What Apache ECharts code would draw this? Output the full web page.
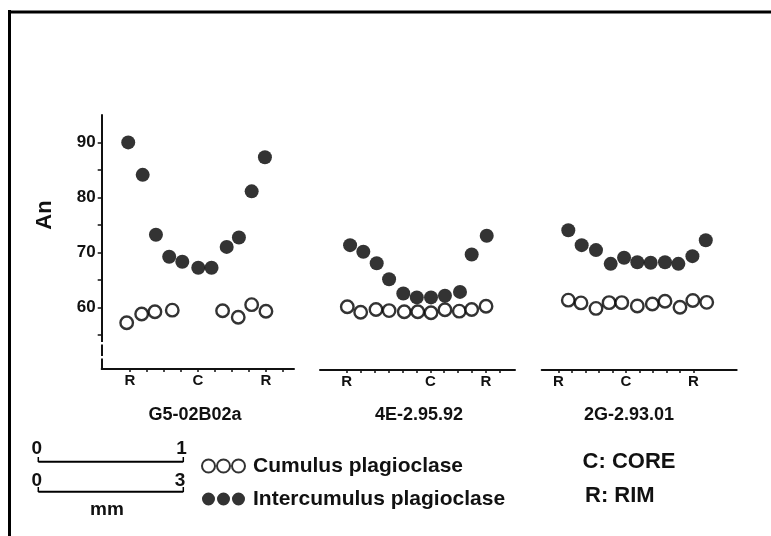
<!DOCTYPE html>
<html>
<head>
<meta charset="utf-8">
<title>An profiles</title>
<script src="https://cdn.jsdelivr.net/npm/echarts@6/dist/echarts.min.js"></script>
<style>
html, body { margin: 0; padding: 0; background: #fff; }
#chart { width: 771px; height: 536px; }
</style>
</head>
<body>
<div id="chart"></div>
<script>
// sample names
const samples = ['G5-02B02a', '4E-2.95.92', '2G-2.93.01']

// position along the traverse (tick steps from first rim) and An content
const g5InterX = [-0.1, 0.75, 1.53, 2.31, 3.08, 4.02, 4.8, 5.69, 6.41, 7.16, 7.94]
const g5InterAn = [90.0, 84.1, 73.2, 69.2, 68.3, 67.2, 67.2, 71.0, 72.7, 81.1, 87.3]
const g5CumX = [-0.19, 0.69, 1.47, 2.49, 5.45, 6.37, 7.16, 8.0]
const g5CumAn = [57.2, 58.8, 59.2, 59.5, 59.4, 58.2, 60.5, 59.3]

const e4InterX = [0.24, 1.19, 2.15, 3.04, 4.06, 5.03, 6.05, 7.05, 8.13, 8.97, 10.05]
const e4InterAn = [71.5, 70.3, 68.2, 65.3, 62.7, 62.0, 62.0, 62.3, 63.0, 69.8, 73.2]
const e4CumX = [0.04, 1.0, 2.1, 3.04, 4.13, 5.1, 6.05, 7.05, 8.08, 8.97, 10.0]
const e4CumAn = [60.3, 59.3, 59.8, 59.6, 59.4, 59.4, 59.2, 59.75, 59.5, 59.8, 60.4]

const g2InterX = [0.74, 1.73, 2.79, 3.88, 4.87, 5.85, 6.84, 7.9, 8.89, 9.93, 10.92]
const g2InterAn = [74.2, 71.5, 70.6, 68.1, 69.2, 68.4, 68.3, 68.4, 68.1, 69.5, 72.4]
const g2CumX = [0.74, 1.68, 2.79, 3.76, 4.7, 5.85, 6.96, 7.9, 9.01, 9.96, 10.99]
const g2CumAn = [61.5, 61.0, 60.0, 61.05, 61.05, 60.45, 60.8, 61.3, 60.2, 61.45, 61.1]

// rim / core marks on each traverse
const g5Marks = [0, 4, 8]
const e4Marks = [0, 6, 10]
const g2Marks = [0, 5, 10]
const markText = ['R', 'C', 'R']
const g5Ticks = [0, 1, 2, 3, 4, 5, 6, 7, 8, 9]
const e4Ticks = [0, 1, 2, 3, 4, 5, 6, 7, 8, 9, 10, 11]
const g2Ticks = [0, 1, 2, 3, 4, 5, 6, 7, 8, 9, 10]

// An axis
const anLabels = [60, 70, 80, 90]
const anTicks = [55, 60, 65, 70, 75, 80, 85, 90]

const FONT = '"Liberation Sans", Arial, Helvetica, sans-serif'
const INK = '#111'

const zip = (xs, ys) => xs.map((x, i) => [x, ys[i]])

const xAxisFor = (idx, min, max, ticks, marks) => ({
  type: 'value',
  gridIndex: idx,
  min: min,
  max: max,
  splitLine: { show: false },
  axisLine: { show: true, onZero: false, lineStyle: { color: INK, width: 2 } },
  axisTick: { show: true, customValues: ticks, length: 3, lineStyle: { color: INK, width: 1.5 } },
  axisLabel: {
    customValues: marks,
    formatter: (v) => markText[marks.indexOf(v)] || '',
    color: INK,
    fontFamily: FONT,
    fontWeight: 'bold',
    fontSize: 15,
    margin: 4
  }
})

const yAxisFor = (idx, show) => ({
  type: 'value',
  gridIndex: idx,
  min: 48.8,
  max: 95,
  show: show,
  splitLine: { show: false },
  axisLine: { show: true, onZero: false, lineStyle: { color: INK, width: 2 } },
  axisTick: { show: true, customValues: anTicks, length: 4, lineStyle: { color: INK, width: 1.5 } },
  axisLabel: { customValues: anLabels, color: INK, fontFamily: FONT, fontWeight: 'bold', fontSize: 17, margin: 6 }
})

const cumStyle = { color: '#fff', borderColor: '#000', borderWidth: 2.4 }
const interStyle = { color: '#000' }

const cumSeries = (idx, xs, ys) => ({
  name: 'Cumulus plagioclase',
  type: 'scatter',
  xAxisIndex: idx,
  yAxisIndex: idx,
  symbolSize: 12.5,
  itemStyle: cumStyle,
  data: zip(xs, ys)
})
const interSeries = (idx, xs, ys) => ({
  name: 'Intercumulus plagioclase',
  type: 'scatter',
  xAxisIndex: idx,
  yAxisIndex: idx,
  symbolSize: 14,
  itemStyle: interStyle,
  data: zip(xs, ys)
})

const threeDots = 'path://M0,6.5a6.5,6.5 0 1,0 13,0a6.5,6.5 0 1,0 -13,0M15,6.5a6.5,6.5 0 1,0 13,0a6.5,6.5 0 1,0 -13,0M30,6.5a6.5,6.5 0 1,0 13,0a6.5,6.5 0 1,0 -13,0'

const txt = (x, y, text, size, extra) => ({
  type: 'text',
  x: x,
  y: y,
  style: Object.assign({ text: text, fill: INK, font: 'bold ' + size + 'px ' + FONT, textAlign: 'center', textVerticalAlign: 'middle' }, extra || {})
})
const seg = (x1, y1, x2, y2, w) => ({
  type: 'line',
  shape: { x1: x1, y1: y1, x2: x2, y2: y2 },
  style: { stroke: '#000', lineWidth: w }
})
// small white gap to break the An axis near its foot
const gap = (y1, y2) => ({
  type: 'rect',
  z: 100,
  shape: { x: 99, y: y1, width: 6, height: y2 - y1 },
  style: { fill: '#fff' }
})

const chart = echarts.init(document.getElementById('chart'), null, { renderer: 'canvas' })

chart.setOption({
  backgroundColor: '#fff',
  animation: false,
  grid: [
    { left: 101.7, top: 114.9, width: 192.3, height: 254.1 },
    { left: 320, top: 115.9, width: 195, height: 254.1 },
    { left: 541.7, top: 115.9, width: 195, height: 254.1 }
  ],
  xAxis: [
    xAxisFor(0, -1.66, 9.65, g5Ticks, g5Marks),
    xAxisFor(1, -1.92, 12.08, e4Ticks, e4Marks),
    xAxisFor(2, -1.23, 13.21, g2Ticks, g2Marks)
  ],
  yAxis: [yAxisFor(0, true), yAxisFor(1, false), yAxisFor(2, false)],
  legend: {
    orient: 'vertical',
    left: 196,
    top: 450,
    itemWidth: 43,
    itemHeight: 13,
    itemGap: 11,
    icon: threeDots,
    selectedMode: false,
    data: ['Cumulus plagioclase', 'Intercumulus plagioclase'],
    textStyle: { color: INK, fontFamily: FONT, fontWeight: 'bold', fontSize: 21, lineHeight: 22, padding: [0, 0, 0, 3] }
  },
  series: [
    interSeries(0, g5InterX, g5InterAn),
    cumSeries(0, g5CumX, g5CumAn),
    interSeries(1, e4InterX, e4InterAn),
    cumSeries(1, e4CumX, e4CumAn),
    interSeries(2, g2InterX, g2InterAn),
    cumSeries(2, g2CumX, g2CumAn)
  ],
  graphic: [
    // frame
    seg(8, 12, 771, 12, 3),
    seg(9.5, 10, 9.5, 536, 3),
    gap(342, 344.5),
    gap(356, 358.5),
    // axis title
    Object.assign(txt(45, 215, 'An', 22), { rotation: Math.PI / 2 }),
    // sample names
    txt(195, 415, samples[0], 18),
    txt(419, 415, samples[1], 18),
    txt(629, 415, samples[2], 18),
    // scale bars
    seg(38.3, 461.7, 183.3, 461.7, 2),
    seg(38.3, 457, 38.3, 462, 1.5),
    seg(183.3, 457, 183.3, 462, 1.5),
    seg(38.3, 491.7, 183.3, 491.7, 2),
    seg(38.3, 487, 38.3, 492, 1.5),
    seg(183.3, 487, 183.3, 492, 1.5),
    txt(36.7, 449, '0', 19),
    txt(181.5, 449, '1', 19),
    txt(36.7, 480.5, '0', 19),
    txt(180, 480.5, '3', 19),
    txt(107, 510, 'mm', 19),
    // key to labels
    txt(582.6, 461.5, 'C: CORE', 22, { textAlign: 'left' }),
    txt(585, 495.5, 'R: RIM', 22, { textAlign: 'left' })
  ]
})
</script>
</body>
</html>
